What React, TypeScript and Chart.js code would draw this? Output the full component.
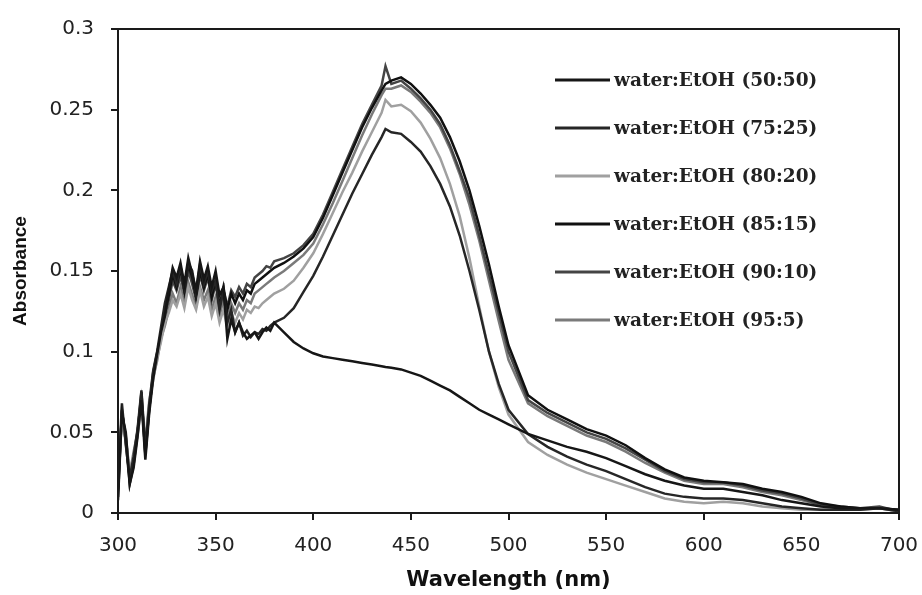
import React, { useEffect, useRef } from "react";
import { Chart, registerables } from "chart.js";

Chart.register(...registerables);

// Wavelength grid (nm)
const WAVELENGTH = [
  300, 302, 304, 306, 308, 310, 312, 314, 316, 318, 320, 322, 324, 326, 328, 330, 332, 334, 336, 338,
  340, 342, 344, 346, 348, 350, 352, 354, 356, 358, 360, 362, 364, 366, 368, 370, 372, 374, 376, 378, 380,
  385, 390, 395, 400, 405, 410, 415, 420, 425, 430, 435, 437,
  440, 445, 450, 455, 460, 465, 470, 475, 480, 485, 490, 495, 500,
  510, 520, 530, 540, 550, 560, 570, 580, 590, 600, 610, 620, 630, 640, 650, 660, 670, 680, 690, 700,
];

const ABS_50_50 = [
  0.008, 0.062, 0.05, 0.018, 0.028, 0.047, 0.07, 0.033, 0.062, 0.083, 0.098, 0.112, 0.122, 0.138, 0.152, 0.146, 0.155, 0.142, 0.158, 0.148,
  0.138, 0.156, 0.145, 0.153, 0.14, 0.15, 0.135, 0.14, 0.108, 0.12, 0.112, 0.118, 0.112, 0.108, 0.11, 0.112, 0.108, 0.112, 0.115, 0.113, 0.118,
  0.112, 0.106, 0.102, 0.099, 0.097, 0.096, 0.095, 0.094, 0.093, 0.092, 0.091, 0.0905,
  0.09, 0.089, 0.087, 0.085, 0.082, 0.079, 0.076, 0.072, 0.068, 0.064, 0.061, 0.058, 0.055,
  0.049, 0.045, 0.041, 0.038, 0.034, 0.029, 0.024, 0.02, 0.017, 0.015, 0.015, 0.013, 0.011, 0.008, 0.006, 0.004, 0.003, 0.003, 0.003, 0.002,
];

const ABS_75_25 = [
  0.015, 0.068, 0.042, 0.022, 0.035, 0.052, 0.076, 0.04, 0.068, 0.088, 0.1, 0.115, 0.13, 0.14, 0.15, 0.142, 0.153, 0.14, 0.155, 0.15,
  0.136, 0.154, 0.142, 0.15, 0.138, 0.144, 0.126, 0.138, 0.118, 0.126, 0.112, 0.118, 0.11, 0.113, 0.109, 0.112, 0.111, 0.114, 0.113, 0.116, 0.118,
  0.121, 0.127, 0.137, 0.147, 0.159, 0.172, 0.185, 0.198, 0.21, 0.222, 0.233, 0.238,
  0.236, 0.235, 0.23, 0.224, 0.215, 0.204, 0.19, 0.172, 0.15, 0.126, 0.1, 0.08, 0.064,
  0.049, 0.041, 0.035, 0.03, 0.026, 0.021, 0.016, 0.012, 0.01, 0.009, 0.009, 0.008, 0.006, 0.004, 0.003, 0.002, 0.002, 0.002, 0.003, 0.001,
];

const ABS_80_20 = [
  0.02, 0.058, 0.045, 0.026, 0.035, 0.048, 0.066, 0.045, 0.07, 0.082, 0.096, 0.106, 0.118, 0.124, 0.132, 0.128, 0.136, 0.127, 0.14, 0.132,
  0.126, 0.138, 0.128, 0.134, 0.122, 0.13, 0.118, 0.126, 0.115, 0.124, 0.118, 0.124, 0.12, 0.126, 0.124, 0.128, 0.127, 0.13, 0.132, 0.134, 0.136,
  0.139, 0.144, 0.152, 0.161, 0.173, 0.186, 0.199, 0.211, 0.224, 0.236, 0.248, 0.256,
  0.252, 0.253, 0.249, 0.242, 0.232, 0.22, 0.204, 0.184, 0.158, 0.128, 0.1, 0.078, 0.061,
  0.044, 0.036, 0.03, 0.025, 0.021, 0.017, 0.013, 0.009, 0.007, 0.006, 0.007, 0.006, 0.004, 0.003, 0.002, 0.002, 0.002, 0.002, 0.003, 0.001,
];

const ABS_85_15 = [
  0.01, 0.064, 0.044, 0.018, 0.03, 0.049, 0.075, 0.036, 0.064, 0.087, 0.099, 0.11, 0.125, 0.135, 0.148, 0.14, 0.152, 0.138, 0.154, 0.146,
  0.134, 0.15, 0.14, 0.148, 0.134, 0.144, 0.128, 0.14, 0.126, 0.136, 0.13, 0.136, 0.132, 0.138, 0.136, 0.142, 0.144, 0.146, 0.148, 0.15, 0.152,
  0.155, 0.159, 0.164, 0.171, 0.183, 0.197, 0.211, 0.225, 0.239, 0.251, 0.262, 0.266,
  0.268, 0.27, 0.266, 0.26, 0.253, 0.245, 0.233, 0.218, 0.2, 0.178, 0.154, 0.128, 0.104,
  0.073, 0.064, 0.058, 0.052, 0.048, 0.042, 0.034, 0.027, 0.022, 0.02, 0.019, 0.018, 0.015, 0.013, 0.01, 0.006, 0.004, 0.003, 0.003, 0.002,
];

const ABS_90_10 = [
  0.014, 0.063, 0.047, 0.021, 0.033, 0.051, 0.072, 0.037, 0.065, 0.085, 0.097, 0.11, 0.122, 0.132, 0.144, 0.138, 0.147, 0.136, 0.15, 0.142,
  0.132, 0.148, 0.138, 0.146, 0.132, 0.142, 0.128, 0.138, 0.128, 0.138, 0.134, 0.14, 0.136, 0.142, 0.14, 0.146, 0.148, 0.15, 0.153, 0.152, 0.156,
  0.158, 0.161, 0.166, 0.173, 0.185, 0.199, 0.213, 0.227, 0.241, 0.253, 0.265, 0.277,
  0.266, 0.268, 0.263, 0.257, 0.25, 0.241, 0.228, 0.212, 0.195, 0.172, 0.148, 0.124, 0.1,
  0.07, 0.062, 0.056, 0.05, 0.046, 0.04, 0.033, 0.026, 0.021, 0.019, 0.019, 0.017, 0.014, 0.012, 0.009, 0.005, 0.004, 0.003, 0.004, 0.001,
];

const ABS_95_5 = [
  0.018, 0.06, 0.048, 0.024, 0.038, 0.05, 0.07, 0.042, 0.066, 0.084, 0.094, 0.108, 0.116, 0.126, 0.136, 0.13, 0.14, 0.13, 0.143, 0.135,
  0.128, 0.14, 0.132, 0.138, 0.126, 0.134, 0.122, 0.132, 0.12, 0.13, 0.124, 0.13, 0.126, 0.132, 0.13, 0.136, 0.138, 0.14, 0.142, 0.144, 0.146,
  0.15, 0.155, 0.16, 0.167, 0.179, 0.192, 0.206, 0.22, 0.234, 0.247, 0.259, 0.263,
  0.263, 0.265, 0.261, 0.255, 0.248, 0.239, 0.226, 0.21, 0.191, 0.169, 0.144, 0.119, 0.095,
  0.068, 0.06, 0.054, 0.048, 0.044, 0.038, 0.031, 0.025, 0.02, 0.018, 0.018, 0.016, 0.013, 0.011, 0.008, 0.005, 0.003, 0.003, 0.003, 0.001,
];

const SERIES_LABELS = [
  "water:EtOH (50:50)",
  "water:EtOH (75:25)",
  "water:EtOH (80:20)",
  "water:EtOH (85:15)",
  "water:EtOH (90:10)",
  "water:EtOH (95:5)",
];
const SERIES_VALUES = [ABS_50_50, ABS_75_25, ABS_80_20, ABS_85_15, ABS_90_10, ABS_95_5];
const SERIES_COLORS = ["#161616", "#262626", "#a0a0a0", "#101010", "#444444", "#7a7a7a"];

const X_TICKS = [300, 350, 400, 450, 500, 550, 600, 650, 700];
const Y_TICKS = [0, 0.05, 0.1, 0.15, 0.2, 0.25, 0.3];

const X_TITLE = "Wavelength (nm)";
const Y_TITLE = "Absorbance";

const AXIS_COLOR = "#1a1a1a";

const framePlugin = {
  id: "frame",
  afterDatasetsDraw(chart: any) {
    const { ctx, chartArea } = chart;
    ctx.save();
    ctx.strokeStyle = AXIS_COLOR;
    ctx.lineWidth = 2;
    ctx.strokeRect(chartArea.left, chartArea.top, chartArea.right - chartArea.left, chartArea.bottom - chartArea.top);
    ctx.restore();
  },
};

const insideLegendPlugin = {
  id: "insideLegend",
  afterDraw(chart: any) {
    const { ctx, chartArea } = chart;
    const x0 = chartArea.left + 437;
    const lineLen = 55;
    const y0 = chartArea.top + 51;
    const gap = 48;
    ctx.save();
    ctx.font = "bold 18.5px 'DejaVu Serif'";
    ctx.textBaseline = "middle";
    ctx.textAlign = "left";
    chart.data.datasets.forEach((ds: any, i: number) => {
      const y = y0 + i * gap;
      ctx.strokeStyle = ds.borderColor;
      ctx.lineWidth = 3;
      ctx.beginPath();
      ctx.moveTo(x0, y);
      ctx.lineTo(x0 + lineLen, y);
      ctx.stroke();
      ctx.fillStyle = "#222";
      ctx.fillText(ds.label, x0 + lineLen + 4, y + 1);
    });
    ctx.restore();
  },
};

export default function App() {
  const ref = useRef<HTMLCanvasElement>(null);

  useEffect(() => {
    if (!ref.current) return;
    const datasets = SERIES_LABELS.map((label, i) => ({
      label,
      data: WAVELENGTH.map((w, j) => ({ x: w, y: SERIES_VALUES[i][j] })),
      borderColor: SERIES_COLORS[i],
      backgroundColor: SERIES_COLORS[i],
      borderWidth: 2.5,
      pointRadius: 0,
      tension: 0,
      fill: false,
    }));

    const chart = new Chart(ref.current, {
      type: "line",
      data: { datasets },
      options: {
        animation: false,
        responsive: false,
        maintainAspectRatio: false,
        layout: { padding: { top: 20, right: 23, left: 0, bottom: 0 } },
        plugins: {
          legend: { display: false },
          tooltip: { enabled: false },
        },
        scales: {
          x: {
            type: "linear",
            min: 300,
            max: 700,
            afterBuildTicks: (s: any) => {
              s.ticks = X_TICKS.map((v) => ({ value: v }));
            },
            afterFit: (s: any) => {
              s.height = 82;
              s.paddingRight = 0;
              s.paddingLeft = 0;
            },
            ticks: {
              color: "#222",
              font: { family: "'DejaVu Sans'", size: 20 },
              padding: 14,
              maxRotation: 0,
              autoSkip: false,
            },
            grid: {
              display: true,
              drawOnChartArea: false,
              drawTicks: true,
              tickLength: 7,
              color: AXIS_COLOR,
              lineWidth: 2,
            },
            border: { display: true, color: AXIS_COLOR, width: 2 },
            title: {
              display: true,
              text: X_TITLE,
              color: "#111",
              font: { family: "'DejaVu Sans'", size: 21, weight: "bold" },
              padding: { top: 0, bottom: 2 },
            },
          },
          y: {
            type: "linear",
            min: 0,
            max: 0.3,
            afterBuildTicks: (s: any) => {
              s.ticks = Y_TICKS.map((v) => ({ value: v }));
            },
            afterFit: (s: any) => {
              s.width = 118;
            },
            ticks: {
              color: "#222",
              font: { family: "'DejaVu Sans'", size: 20 },
              padding: 17,
              callback: (v: any) => String(Number(Number(v).toFixed(2))),
            },
            grid: {
              display: true,
              drawOnChartArea: false,
              drawTicks: true,
              tickLength: 7,
              color: AXIS_COLOR,
              lineWidth: 2,
            },
            border: { display: true, color: AXIS_COLOR, width: 2 },
            title: {
              display: true,
              text: Y_TITLE,
              color: "#111",
              font: { family: "'Liberation Sans'", size: 19, weight: "bold" },
              padding: { top: 9, bottom: 0 },
            },
          },
        },
      } as any,
      plugins: [framePlugin, insideLegendPlugin],
    });
    return () => chart.destroy();
  }, []);

  return (
    <div style={{ position: "fixed", left: 0, top: 0, width: 922, height: 595, background: "#fff" }}>
      <canvas ref={ref} width={922} height={595} style={{ display: "block", width: 922, height: 595 }} />
    </div>
  );
}
